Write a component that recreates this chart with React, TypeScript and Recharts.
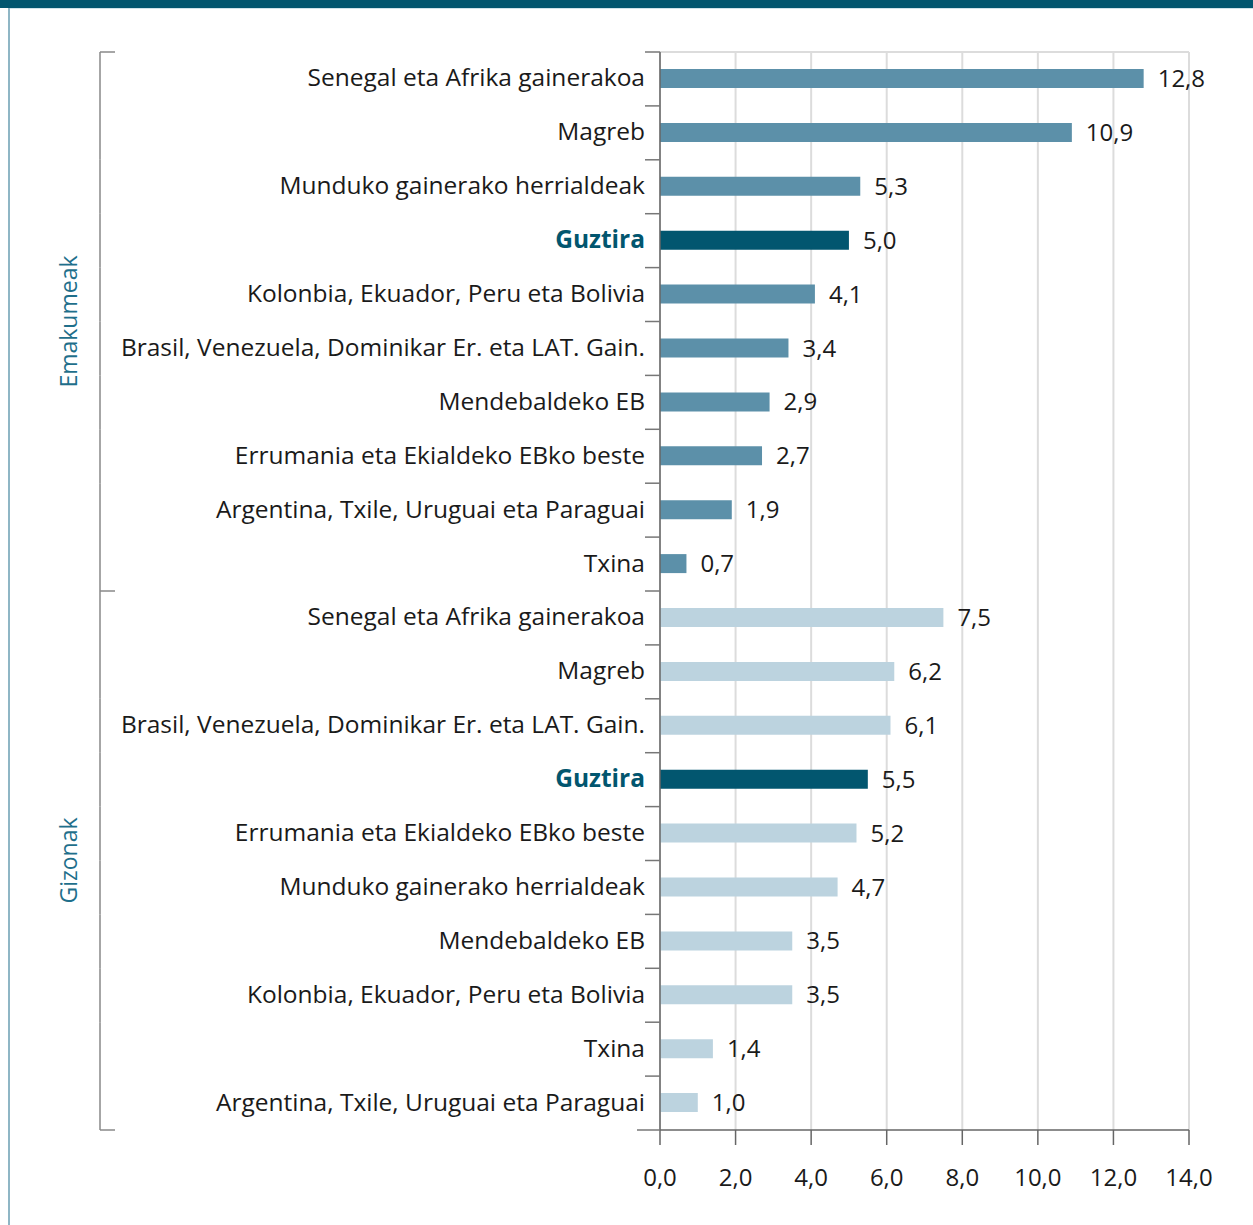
import React from "react";
import { BarChart, Bar, XAxis, YAxis, CartesianGrid, Cell, LabelList } from "recharts";

const womenLabels = [
  "Senegal eta Afrika gainerakoa",
  "Magreb",
  "Munduko gainerako herrialdeak",
  "Guztira",
  "Kolonbia, Ekuador, Peru eta Bolivia",
  "Brasil, Venezuela, Dominikar Er. eta LAT. Gain.",
  "Mendebaldeko EB",
  "Errumania eta Ekialdeko EBko beste",
  "Argentina, Txile, Uruguai eta Paraguai",
  "Txina",
];
const womenValues = [12.8, 10.9, 5.3, 5.0, 4.1, 3.4, 2.9, 2.7, 1.9, 0.7];

const menLabels = [
  "Senegal eta Afrika gainerakoa",
  "Magreb",
  "Brasil, Venezuela, Dominikar Er. eta LAT. Gain.",
  "Guztira",
  "Errumania eta Ekialdeko EBko beste",
  "Munduko gainerako herrialdeak",
  "Mendebaldeko EB",
  "Kolonbia, Ekuador, Peru eta Bolivia",
  "Txina",
  "Argentina, Txile, Uruguai eta Paraguai",
];
const menValues = [7.5, 6.2, 6.1, 5.5, 5.2, 4.7, 3.5, 3.5, 1.4, 1.0];

const groupNames = ["Emakumeak", "Gizonak"];
const xTicks = [0, 2, 4, 6, 8, 10, 12, 14];

const TOTAL = "Guztira";
const C_WOMEN = "#5c90a9";
const C_MEN = "#bcd3df";
const C_TOTAL = "#02566f";
const C_GROUP = "#1f6f8b";
const FONT = "'Open Sans', sans-serif";

const data = [
  ...womenLabels.map((label, i) => ({ id: "w" + i, label, value: womenValues[i], group: 0 })),
  ...menLabels.map((label, i) => ({ id: "m" + i, label, value: menValues[i], group: 1 })),
];

const W = 1253;
const H = 1225;
const M = { top: 52, right: 64, bottom: 0, left: 0 };
const Y_W = 660;
const X_H = 95;
const BAND = (H - M.top - M.bottom - X_H) / data.length;

const fmt = (v: number) => v.toFixed(1).replace(".", ",");

const YTick = (props: any) => {
  const { x, y, index } = props;
  const d = data[index];
  if (!d) return null;
  const isTotal = d.label === TOTAL;
  const top = y - BAND / 2;
  const bot = y + BAND / 2;
  const bx = 100;
  const firstOfGroup = index === 0 || data[index - 1].group !== d.group;
  const last = index === data.length - 1;
  const groupSize = data.filter((e) => e.group === d.group).length;
  const groupStart = data.findIndex((e) => e.group === d.group);
  const isMid = index - groupStart === groupSize / 2 - 1;
  return (
    <g>
      <line x1={x} x2={x + 15} y1={top} y2={top} stroke="#777" strokeWidth={1.5} />
      {last && <line x1={x - 8} x2={x + 15} y1={bot} y2={bot} stroke="#777" strokeWidth={1.5} />}
      <line x1={bx} x2={bx} y1={top} y2={bot} stroke="#888" strokeWidth={1.5} />
      {firstOfGroup && <line x1={bx} x2={bx + 15} y1={top} y2={top} stroke="#888" strokeWidth={1.5} />}
      {last && <line x1={bx} x2={bx + 15} y1={bot} y2={bot} stroke="#888" strokeWidth={1.5} />}
      {isMid && (
        <text
          x={68}
          y={bot}
          transform={`rotate(-90, 68, ${bot})`}
          textAnchor="middle"
          dominantBaseline="central"
          fontSize={23}
          fill={C_GROUP}
          fontFamily={FONT}
        >
          {groupNames[d.group]}
        </text>
      )}
      <text
        x={x}
        y={y - 2}
        textAnchor="end"
        dominantBaseline="central"
        fontSize={24.5}
        fontWeight={isTotal ? 700 : 400}
        fill={isTotal ? C_TOTAL : "#1a1a1a"}
        fontFamily={FONT}
      >
        {d.label}
      </text>
    </g>
  );
};

export default function App() {
  return (
    <div style={{ position: "absolute", left: 0, top: 0, width: W, height: H, background: "#fff", overflow: "hidden" }}>
      <div style={{ position: "absolute", left: 0, top: 0, width: W, height: 8, background: C_TOTAL }} />
      <div style={{ position: "absolute", left: 8, top: 8, width: W - 8, height: 1, background: "#cfe3ea" }} />
      <div style={{ position: "absolute", left: 8, top: 8, width: 1.5, height: H - 8, background: "#8fb6c5" }} />
      <div style={{ position: "absolute", left: 0, top: 0 }}>
        <BarChart width={W} height={H} data={data} layout="vertical" margin={M} barSize={19}>
          <CartesianGrid
            stroke="#dcdcdc"
            strokeWidth={2}
            horizontalCoordinatesGenerator={({ offset }: any) => [offset.top]}
          />
          <XAxis
            type="number"
            domain={[0, 14]}
            ticks={xTicks}
            interval={0}
            height={X_H}
            tickFormatter={fmt}
            tickSize={15}
            tickMargin={24}
            axisLine={{ stroke: "#666", strokeWidth: 1.5 }}
            tickLine={{ stroke: "#666", strokeWidth: 1.5 }}
            tick={{ fontSize: 24, fill: "#1a1a1a", fontFamily: FONT }}
          />
          <YAxis
            type="category"
            dataKey="id"
            width={Y_W}
            interval={0}
            tickSize={0}
            tickMargin={15}
            axisLine={{ stroke: "#666", strokeWidth: 1.5 }}
            tickLine={false}
            tick={<YTick />}
          />
          <Bar dataKey="value" isAnimationActive={false}>
            {data.map((d) => (
              <Cell key={d.id} fill={d.label === TOTAL ? C_TOTAL : d.group === 0 ? C_WOMEN : C_MEN} />
            ))}
            <LabelList
              dataKey="value"
              position="right"
              offset={14}
              formatter={(v: any) => fmt(Number(v))}
              style={{ fontSize: 24, fill: "#1a1a1a", fontFamily: FONT }}
            />
          </Bar>
        </BarChart>
      </div>
    </div>
  );
}
